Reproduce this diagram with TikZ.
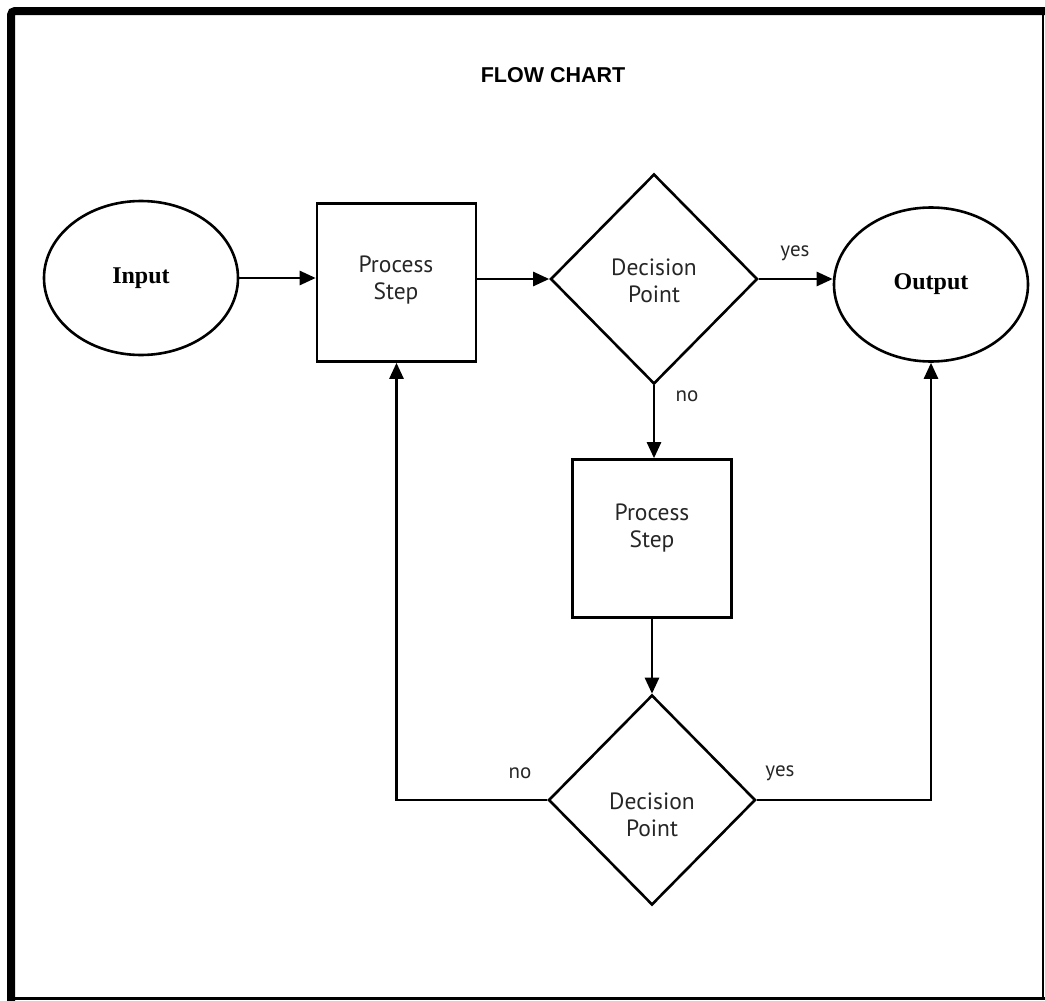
\documentclass[tikz,border=0pt]{standalone}
\usepackage{fontspec}
\setmainfont{Liberation Serif}
\newfontfamily\labelfont{PT Sans}
\newfontfamily\titlefont{Liberation Sans}
\usetikzlibrary{shapes.geometric,arrows.meta}
\begin{document}
\begin{tikzpicture}[x=1pt,y=-1pt,
  shape line/.style={draw=black,line width=2.6pt},
  terminal/.style={shape line,ellipse,minimum width=194pt,minimum height=154pt,inner sep=0pt,
    font=\fontsize{24}{28}\selectfont\bfseries},
  stepbox/.style={shape line,rectangle,minimum width=159pt,minimum height=158pt,inner sep=0pt},
  choice/.style={shape line,diamond,minimum width=207pt,minimum height=210pt,inner sep=0pt},
  caption/.style={font=\labelfont\fontsize{23.5}{27}\selectfont,text=black!85,align=center},
  branch/.style={font=\labelfont\fontsize{21}{24}\selectfont,text=black!85},
  arr/.style={line width=2.6pt,-{Triangle[length=16pt,width=14pt]}}]
\useasboundingbox (0,0) rectangle (1045,1001);
% page frame
\draw[line width=8pt,rounded corners=4pt] (11,1001) -- (11,11) -- (1045,11);
\draw[line width=2pt] (1043,11) -- (1043,998);
\draw[line width=3pt] (9,998.5) -- (1045,998.5);
% title
\node[font=\titlefont\bfseries\fontsize{21.5}{24}\selectfont] (title) at (553,75) {FLOW CHART};
% shapes
\node[terminal] (input) at (141,278) {Input};
\node[stepbox] (proc1) at (396.5,282.5) {};
\node[caption] (proc1t) at (396,280) {Process\\Step};
\node[choice] (dec1) at (654,279) {};
\node[caption] (dec1t) at (654,281) {Decision\\Point};
\node[terminal] (output) at (931,284.5) {Output};
\node[stepbox] (proc2) at (652,538.5) {};
\node[caption] (proc2t) at (652,528) {Process\\Step};
\node[choice] (dec2) at (652,800) {};
\node[caption] (dec2t) at (652,815) {Decision\\Point};
% connectors
\draw[arr] (input.east) -- (input.east -| proc1.west);
\draw[arr] (dec1.west -| proc1.east) -- (dec1.west);
\draw[arr] (dec1.east) -- (dec1.east -| output.west);
\draw[arr] (dec1.south) -- (dec1.south |- proc2.north);
\draw[arr] (proc2.south) -- (dec2.north);
\draw[arr] (dec2.west) -- (dec2.west -| proc1.south) -- (proc1.south);
\draw[arr] (dec2.east) -- (dec2.east -| output.south) -- (output.south);
% branch labels
\node[branch] (yes1) at (795,253) {yes};
\node[branch] (no1) at (687,396) {no};
\node[branch] (no2) at (520,773) {no};
\node[branch] (yes2) at (780,773) {yes};
\end{tikzpicture}
\end{document}
